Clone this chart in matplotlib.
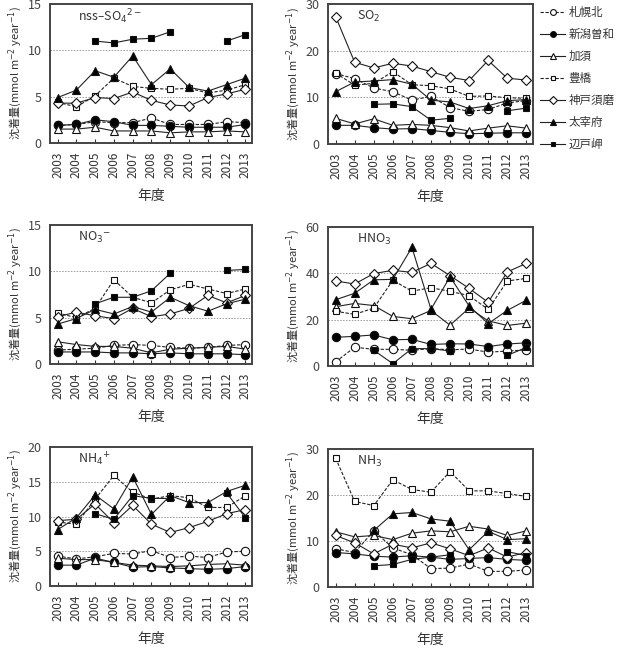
import numpy as np
import matplotlib
matplotlib.use("Agg")
import matplotlib.pyplot as plt

plt.rcParams['font.family'] = ['Noto Sans CJK JP', 'DejaVu Sans']
plt.rcParams['mathtext.fontset'] = 'dejavusans'

nan = np.nan
years = list(range(2003, 2014))
sites = ["札幌北", "新潟曽和", "加須", "豊橋", "神戸須磨", "太宰府", "辺戸岬"]

# nss-SO4^2-
so4_sapporo = [1.9, 2.0, 2.3, 2.2, 2.2, 2.7, 2.0, 2.0, 2.0, 2.3, 2.2]
so4_niigata = [1.9, 2.0, 2.5, 2.3, 1.9, 1.9, 1.8, 1.7, 1.7, 1.7, 2.0]
so4_kazo = [1.5, 1.5, 1.7, 1.3, 1.3, 1.3, 1.1, 1.2, 1.2, 1.3, 1.2]
so4_toyohashi = [4.4, 3.9, 5.1, 7.0, 6.1, 5.9, 5.8, 5.9, 5.4, 5.7, 6.3]
so4_kobe = [4.3, 4.3, 4.9, 4.8, 5.5, 4.6, 4.1, 4.0, 4.9, 5.3, 5.8]
so4_dazaifu = [4.9, 5.7, 7.8, 7.1, 9.4, 6.3, 8.0, 6.0, 5.6, 6.3, 7.0]
so4_hedo = [nan, nan, 11.0, 10.8, 11.2, 11.3, 12.0, nan, nan, 11.0, 11.7]

# SO2
so2_sapporo = [15.1, 14.0, 12.0, 11.2, 9.4, 10.2, 7.8, 7.0, 7.4, 8.8, 9.3]
so2_niigata = [4.0, 4.0, 3.5, 3.2, 3.3, 2.9, 2.5, 2.2, 2.3, 2.4, 2.4]
so2_kazo = [5.5, 4.3, 5.4, 4.0, 4.2, 4.0, 3.5, 2.8, 3.4, 3.9, 3.4]
so2_toyohashi = [15.2, 12.6, 13.0, 15.5, 12.7, 12.5, 11.8, 10.2, 10.3, 9.9, 9.8]
so2_kobe = [27.3, 17.5, 16.3, 17.3, 16.7, 15.5, 14.3, 13.6, 17.9, 14.1, 13.7]
so2_dazaifu = [11.2, 13.3, 13.5, 13.8, 12.8, 9.4, 9.0, 7.6, 8.2, 9.3, 9.5]
so2_hedo = [nan, nan, 8.5, 8.6, 8.0, 5.1, 5.5, nan, nan, 7.1, 7.7]

# NO3-
no3_sapporo = [1.5, 1.6, 1.7, 2.0, 2.1, 2.0, 1.8, 1.7, 1.8, 2.0, 2.1]
no3_niigata = [1.3, 1.3, 1.3, 1.2, 1.2, 1.1, 1.2, 1.1, 1.1, 1.1, 1.0]
no3_kazo = [2.4, 2.1, 1.9, 1.9, 1.7, 1.2, 1.6, 1.7, 1.8, 1.9, 1.6]
no3_toyohashi = [5.5, 5.0, 6.0, 9.1, 7.2, 6.6, 8.0, 8.6, 8.1, 7.6, 8.1]
no3_kobe = [5.1, 5.6, 5.2, 4.9, 6.0, 5.1, 5.4, 6.0, 7.4, 6.6, 7.4]
no3_dazaifu = [4.3, 4.9, 5.9, 5.4, 6.2, 5.6, 7.2, 6.3, 5.7, 6.5, 7.0]
no3_hedo = [nan, nan, 6.5, 7.2, 7.2, 7.9, 9.8, nan, nan, 10.1, 10.2]

# HNO3
hno3_sapporo = [1.8, 8.1, 7.2, 7.2, 6.8, 7.5, 7.0, 7.3, 6.0, 6.4, 7.0]
hno3_niigata = [12.4, 12.8, 13.4, 11.3, 11.5, 9.3, 9.6, 9.5, 8.4, 9.5, 10.0]
hno3_kazo = [25.6, 27.0, 26.1, 21.4, 20.4, 24.0, 17.6, 25.0, 19.5, 17.5, 18.5]
hno3_toyohashi = [23.6, 22.3, 25.0, 37.0, 32.3, 33.8, 32.2, 30.4, 24.4, 36.7, 37.8]
hno3_kobe = [36.7, 35.4, 39.9, 41.3, 40.4, 44.3, 39.0, 33.5, 27.5, 40.6, 44.3]
hno3_dazaifu = [28.6, 31.4, 37.2, 37.4, 51.2, 24.5, 38.5, 25.9, 18.3, 24.0, 28.4]
hno3_hedo = [nan, nan, 6.8, 1.0, 7.5, 7.5, 6.5, nan, nan, 4.6, 8.0]

# NH4+
nh4_sapporo = [4.3, 3.9, 4.2, 4.7, 4.6, 5.1, 4.1, 4.3, 4.1, 4.9, 5.0]
nh4_niigata = [3.0, 3.0, 4.0, 3.4, 2.7, 2.8, 2.6, 2.5, 2.4, 2.5, 2.8]
nh4_kazo = [4.0, 3.8, 3.8, 3.4, 3.0, 2.9, 2.8, 2.9, 3.1, 3.2, 3.0]
nh4_toyohashi = [9.2, 8.9, 12.5, 15.9, 13.5, 12.5, 13.0, 12.7, 11.3, 11.3, 13.0]
nh4_kobe = [9.4, 9.6, 11.8, 9.1, 11.6, 8.9, 7.7, 8.4, 9.3, 10.4, 11.0]
nh4_dazaifu = [8.1, 9.8, 13.1, 11.1, 15.7, 10.3, 13.0, 12.0, 12.0, 13.6, 14.5]
nh4_hedo = [nan, nan, 10.4, 9.6, 13.0, 12.6, 12.6, nan, nan, 13.4, 9.8]

# NH3
nh3_sapporo = [8.3, 7.5, 12.2, 8.5, 7.0, 4.0, 4.1, 5.0, 3.4, 3.4, 3.7]
nh3_niigata = [7.5, 7.2, 6.7, 6.5, 6.8, 6.5, 6.0, 6.2, 6.4, 6.0, 5.8]
nh3_kazo = [12.0, 10.9, 11.2, 10.3, 11.7, 12.2, 12.0, 13.2, 12.6, 11.2, 12.2]
nh3_toyohashi = [28.0, 18.6, 17.7, 23.3, 21.2, 20.6, 25.1, 20.9, 20.9, 20.3, 19.7]
nh3_kobe = [11.2, 9.6, 7.2, 9.3, 8.5, 9.6, 8.3, 6.8, 8.5, 6.5, 7.5]
nh3_dazaifu = [nan, nan, 12.3, 15.9, 16.2, 14.8, 14.3, 8.1, 12.1, 10.3, 10.5]
nh3_hedo = [nan, nan, 4.6, 4.9, 6.0, 6.5, 7.0, nan, nan, 7.7, 6.8]

panels = [
    ("nss\u2013SO$_4$$^{2-}$", 15, 5,
     [so4_sapporo, so4_niigata, so4_kazo, so4_toyohashi, so4_kobe, so4_dazaifu, so4_hedo]),
    ("SO$_2$", 30, 10,
     [so2_sapporo, so2_niigata, so2_kazo, so2_toyohashi, so2_kobe, so2_dazaifu, so2_hedo]),
    ("NO$_3$$^{-}$", 15, 5,
     [no3_sapporo, no3_niigata, no3_kazo, no3_toyohashi, no3_kobe, no3_dazaifu, no3_hedo]),
    ("HNO$_3$", 60, 20,
     [hno3_sapporo, hno3_niigata, hno3_kazo, hno3_toyohashi, hno3_kobe, hno3_dazaifu, hno3_hedo]),
    ("NH$_4$$^{+}$", 20, 5,
     [nh4_sapporo, nh4_niigata, nh4_kazo, nh4_toyohashi, nh4_kobe, nh4_dazaifu, nh4_hedo]),
    ("NH$_3$", 30, 10,
     [nh3_sapporo, nh3_niigata, nh3_kazo, nh3_toyohashi, nh3_kobe, nh3_dazaifu, nh3_hedo]),
]

# marker, fill, linestyle, size
styles = [
    ("o", "white", (0, (3, 1.5)), 6),
    ("o", "black", "-", 6),
    ("^", "white", "-", 6),
    ("s", "white", (0, (3, 1.5)), 4.3),
    ("D", "white", "-", 5.2),
    ("^", "black", "-", 6),
    ("s", "black", "-", 4.3),
]

# axes boxes in pixels: left, right, top, bottom
boxes = [(50, 252, 4, 143), (328, 533, 4, 144),
         (50, 252, 225, 364), (328, 533, 227, 366),
         (50, 252, 447, 586), (328, 533, 449, 587)]

W, H = 620, 646
fig = plt.figure(figsize=(W / 100, H / 100), dpi=100)

handles = []
for i, (title, ymax, step, series) in enumerate(panels):
    l, r, t, b = boxes[i]
    ax = fig.add_axes([l / W, 1 - b / H, (r - l) / W, (b - t) / H])
    for j, vals in enumerate(series):
        m, fc, ls, ms = styles[j]
        h, = ax.plot(years, vals, marker=m, markerfacecolor=fc, markeredgecolor="#111111",
                     markeredgewidth=0.8, color="#222222", linestyle=ls, linewidth=0.8,
                     markersize=ms, label=sites[j])
        if i == 0:
            handles.append(h)
    ax.set_xlim(2002.6, 2013.35)
    ax.set_ylim(0, ymax)
    ax.set_yticks(np.arange(0, ymax + 0.1, step))
    ax.set_xticks(years)
    ax.set_xticklabels([str(y) for y in years], rotation=90, fontsize=8.5, color="#333333")
    ax.tick_params(axis="x", direction="in", length=3, pad=6, color="#333333")
    ax.tick_params(axis="y", length=0, labelsize=9, labelcolor="#444444", pad=6)
    ax.yaxis.grid(True, linestyle=(0, (1.5, 1.5)), color="#999999", linewidth=0.7)
    ax.set_axisbelow(True)
    for s in ax.spines.values():
        s.set_linewidth(1.4)
        s.set_color("#444444")
    ax.set_xlabel("年度", fontsize=10, color="#333333", labelpad=8)
    ax.set_ylabel("沈着量(mmol m$^{-2}$ year$^{-1}$)", fontsize=8, color="#333333", labelpad=3)
    ax.text(0.14, 0.91, title, transform=ax.transAxes, fontsize=9, color="#333333",
            va="center", ha="left")

fig.legend(handles=handles, loc="upper left", bbox_to_anchor=(540 / W, 1 - 6 / H),
           frameon=False, fontsize=8.3, handlelength=2.2, handletextpad=0.3,
           labelspacing=0.78, borderaxespad=0, borderpad=0, markerscale=0.7,
           labelcolor="#333333")

fig.savefig("out.png", dpi=100)
